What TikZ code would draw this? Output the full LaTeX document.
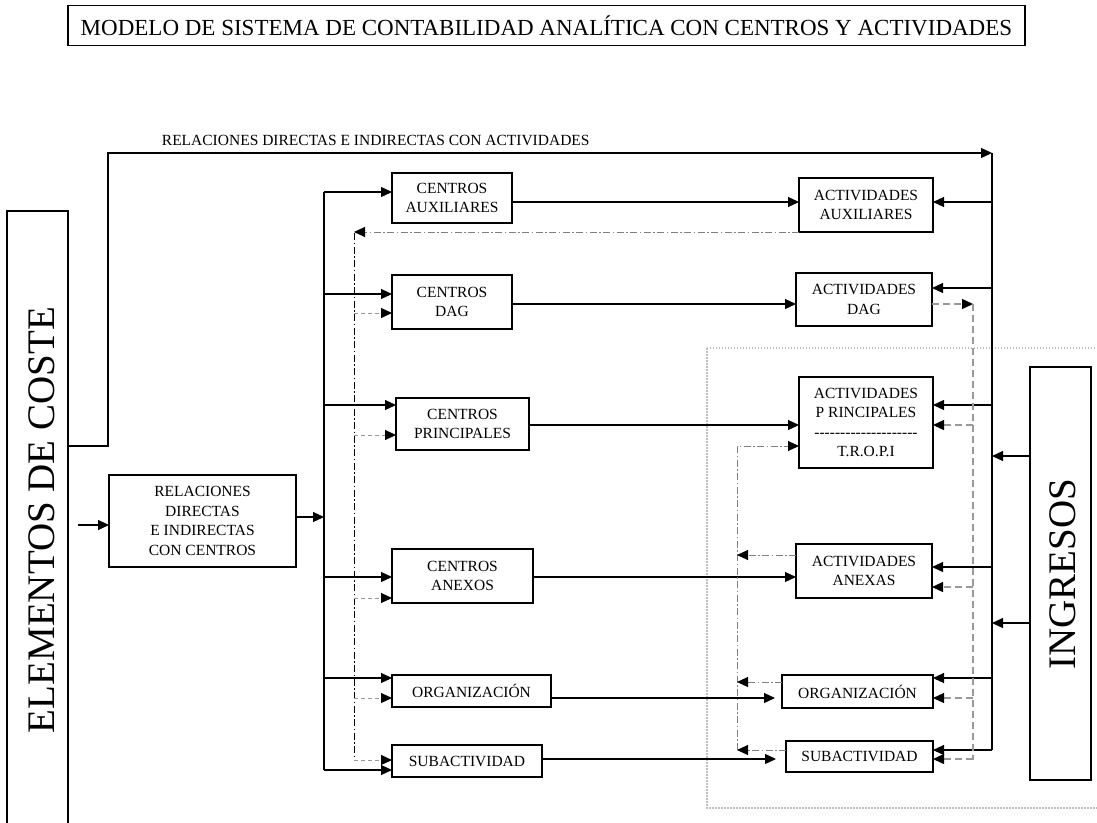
\documentclass[tikz,border=0pt]{standalone}
\usepackage{fontspec}
\setmainfont{Liberation Serif}
\usetikzlibrary{arrows.meta}

\tikzset{every picture/.style={line width=1.2pt}}
\tikzset{
  box/.style={draw, align=center, inner sep=0pt, outer sep=0pt,
              font=\fontsize{15.5}{19.5}\selectfont, minimum width=#1},
  box/.default={120pt}, % default width of a box
  arr/.style={-{Triangle[length=11pt,width=10pt,black]}},
  ddot/.style={dash pattern=on 7pt off 2.5pt on 1.5pt off 2.5pt, line width=1pt, gray},
  ddotk/.style={dash pattern=on 7pt off 2.5pt on 1.5pt off 2.5pt, line width=1pt},
  ddash/.style={dash pattern=on 7pt off 4pt, line width=1.3pt, gray!80},
  dotbox/.style={dash pattern=on 1.5pt off 1.5pt, line width=1.3pt, gray!50},
  big/.style={rotate=90, font=\fontsize{39}{40}\selectfont},
}
\def\bx{992} % right bus
\def\lx{324} % left bus

\begin{document}
\begin{tikzpicture}[x=1pt,y=-1pt]
  \useasboundingbox (0,0) rectangle (1097,822);
  % frame round the income side
  \draw[dotbox] (707,348) rectangle (1110,808);
  % title
  \node[draw, minimum width=957pt, minimum height=40pt, inner sep=0pt,
        font=\fontsize{23}{26}\selectfont] (title) at (546.5,25.5)
        {MODELO DE SISTEMA DE CONTABILIDAD ANALÍTICA CON CENTROS Y ACTIVIDADES};
  % side blocks
  \node[draw, minimum width=61pt, minimum height=620pt] (elem) at (37.5,521) {};
  \node[big] (elemtxt) at (42,520) {ELEMENTOS DE COSTE};
  \node[draw, minimum width=61pt, minimum height=413pt] (ing) at (1060.5,573.5) {};
  \node[big] (ingtxt) at (1063,574) {INGRESOS};
  % centres
  \node[box=187pt, minimum height=92pt] (rel) at (202.5,521)
        {RELACIONES\\DIRECTAS\\E INDIRECTAS\\CON CENTROS};
  \node[box, minimum height=50pt] (cAux) at (452,198) {CENTROS\\AUXILIARES};
  \node[box, minimum height=54pt] (cDag) at (452,302) {CENTROS\\DAG};
  \node[box=133pt, minimum height=52pt] (cPri) at (462.5,424) {CENTROS\\PRINCIPALES};
  \node[box=141pt, minimum height=54pt] (cAne) at (462.5,576) {CENTROS\\ANEXOS};
  \node[box=159pt, minimum height=32pt] (cOrg) at (471.5,691) {ORGANIZACIÓN};
  \node[box=150pt, minimum height=32pt] (cSub) at (467,761) {SUBACTIVIDAD};
  % activities
  \node[box=134pt, minimum height=54pt] (aAux) at (866,205) {ACTIVIDADES\\AUXILIARES};
  \node[box=136pt, minimum height=53pt] (aDag) at (864,299.5) {ACTIVIDADES\\DAG};
  \node[box=134pt, minimum height=91pt] (aPri) at (866,422.5)
        {ACTIVIDADES\\P RINCIPALES\\\foreach \i in {1,...,20}{-}\\T.R.O.P.I};
  \node[box=136pt, minimum height=54pt] (aAne) at (864,571) {ACTIVIDADES\\ANEXAS};
  \node[box=151pt, minimum height=33pt] (aOrg) at (857.5,691.5) {ORGANIZACIÓN};
  \node[box=147pt, minimum height=31pt] (aSub) at (859.5,756.5) {SUBACTIVIDAD};

  % direct and indirect relations with activities
  \draw[arr] (elem.east |- 0,446) -- (108,446) -- (108,153) -- (\bx,153);
  \node[anchor=base west, font=\fontsize{15.5}{18}\selectfont] (lbl) at (158,145)
        {RELACIONES DIRECTAS E INDIRECTAS CON ACTIVIDADES};
  \coordinate (in) at (78,525);
  \draw[arr] (in) -- (in -| rel.west);
  \draw[arr] (rel.east |- 0,517) -- (\lx,517);

  % left bus into the centres
  \draw (\lx,192) -- (\lx,770);
  \foreach \n/\y in {cAux/192, cDag/294, cPri/405, cAne/577, cOrg/678, cSub/770}
    \draw[arr] (\lx,\y) -- (\n.west |- 0,\y);

  % right bus into the activities
  \draw (\bx,153) -- (\bx,750);
  \foreach \n/\y in {aAux/202, aDag/288, aPri/405, aAne/567, aOrg/678, aSub/750}
    \draw[arr] (\bx,\y) -- (\n.east |- 0,\y);
  \foreach \y in {456,623}
    \draw[arr] (ing.west |- 0,\y) -- (\bx,\y);

  % centres -> activities
  \foreach \a/\b/\y in {cAux/aAux/202, cDag/aDag/304, cPri/aPri/425, cAne/aAne/577}
    \draw[arr] (\a.east |- 0,\y) -- (\b.west |- 0,\y);
  \draw[arr, shorten >=7pt] (cOrg.east |- 0,698) -- (aOrg.west |- 0,698);
  \draw[arr, shorten >=10pt] (cSub.east |- 0,759) -- (aSub.west |- 0,759);

  % auxiliary activities back to the centres
  \draw[ddot, arr] (aAux.south west) -- (aAux.south west -| 354,0);
  \draw[ddotk] (354,233) -- (354,760);
  \foreach \n/\y in {cDag/313, cPri/435, cAne/598, cOrg/698, cSub/760}
    \draw[ddash, line width=1pt, dash pattern=on 4pt off 3pt, arr] (354,\y) -- (\n.west |- 0,\y);

  % DAG activities to the others
  \draw[ddash, arr] (aDag.east |- 0,304) -- (973,304);
  \draw[ddash] (973,304) -- (973,760);
  \foreach \n/\y in {aPri/425, aAne/587, aOrg/698, aSub/759}
    \draw[ddash, arr] (973,\y) -- (\n.east |- 0,\y);

  % feeding T.R.O.P.I
  \draw[ddot, arr] (737,750) -- (737,446) -- (aPri.west |- 0,446);
  \foreach \n/\y in {aAne/555, aOrg/682, aSub/750}
    \draw[ddot, arr] (\n.west |- 0,\y) -- (737,\y);
\end{tikzpicture}
\end{document}
